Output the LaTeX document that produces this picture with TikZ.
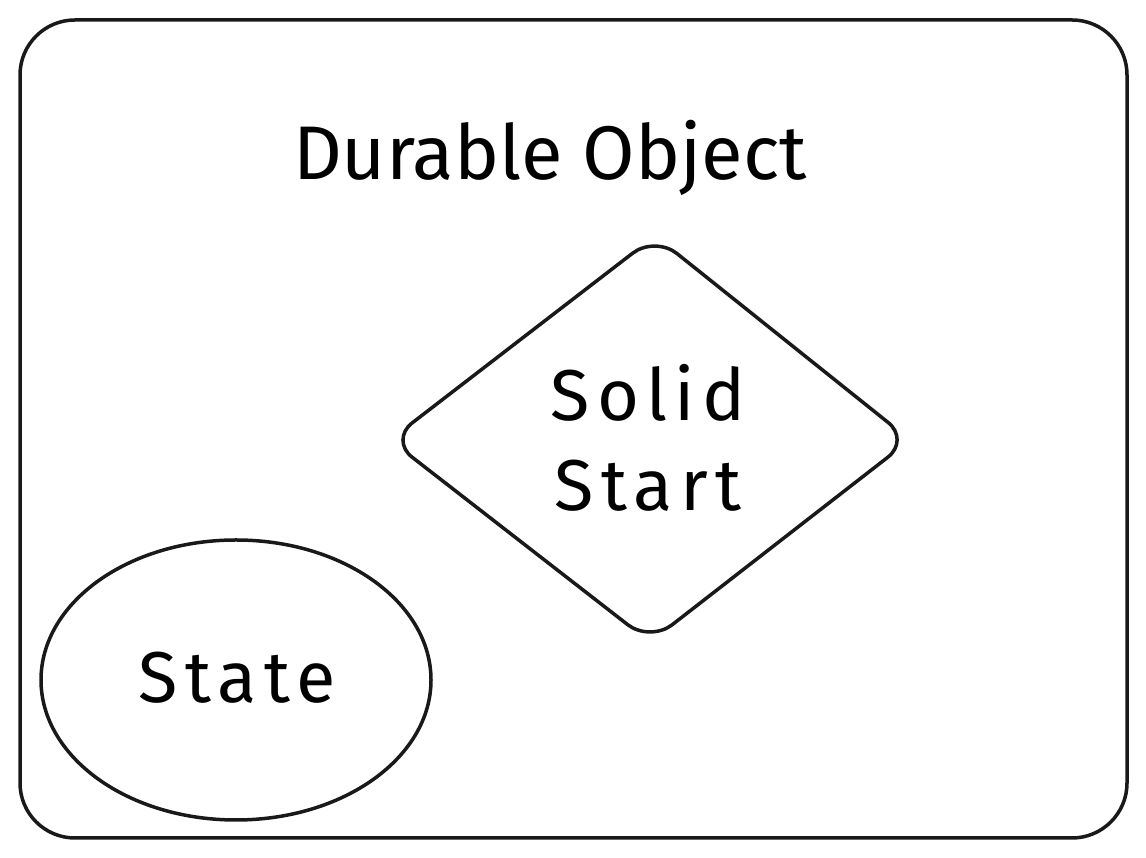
\documentclass[tikz,border=0pt]{standalone}
\usepackage{fontspec}
\setmainfont{Fira Sans}
\newfontfamily\widefont[LetterSpace=10]{Fira Sans}
\begin{document}
\begin{tikzpicture}[x=1pt,y=1pt,line width=3.5pt,line join=round,line cap=round,
  lbl/.style={font=\widefont\fontsize{72}{90}\selectfont,align=center,inner sep=0pt},
  box/.style={draw=black!90}]
\useasboundingbox (0,0) rectangle (1146,858);
% outer container (y = 858 - py)
\draw[box,rounded corners=55pt] (20,20) rectangle (1127,838);
\node[font=\fontsize{76}{90}\selectfont,inner sep=0pt] (title) at (550,700) {Durable Object};
% diamond
\coordinate (dl) at (390,418);
\coordinate (dt) at (655,622);
\coordinate (dr) at (910,418);
\coordinate (db) at (650,216);
\draw[box,rounded corners=28pt] (dl) -- (dt) -- (dr) -- (db) -- cycle;
\node[lbl] (solid) at (648,420) {Solid\\Start};
% ellipse
\draw[box] (236,178) ellipse [x radius=195, y radius=140];
\node[lbl] (state) at (237,180) {State};
\end{tikzpicture}
\end{document}
